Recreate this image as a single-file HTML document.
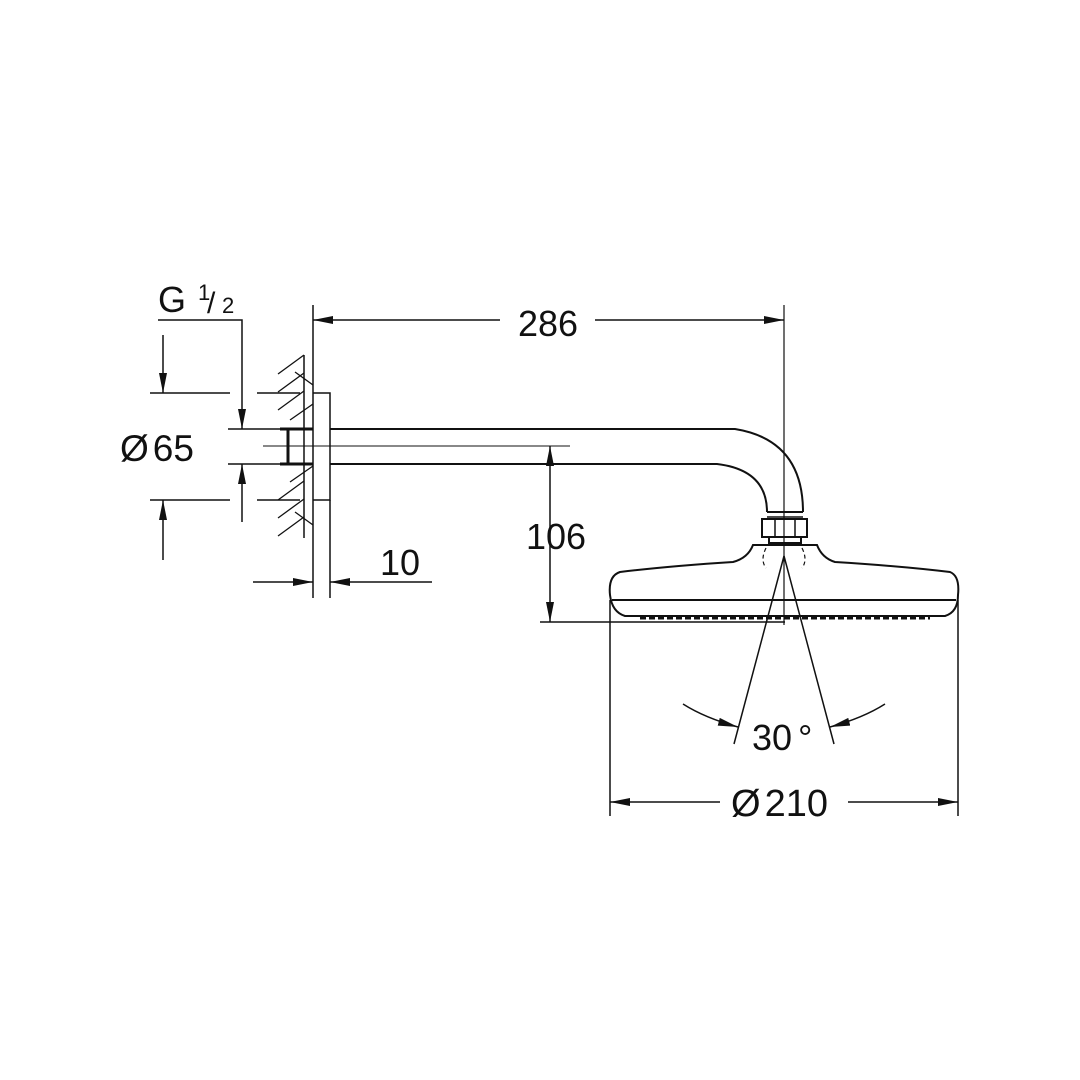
<!DOCTYPE html>
<html><head><style>
html,body{margin:0;padding:0;background:#fff;}
svg{display:block;}
text{font-family:"Liberation Sans",sans-serif;fill:#111;}
</style></head><body>
<svg width="1080" height="1080" viewBox="0 0 1080 1080" xmlns="http://www.w3.org/2000/svg">
<defs>
<marker id="a" viewBox="0 0 20 8" refX="20" refY="4" markerWidth="20" markerHeight="8" markerUnits="userSpaceOnUse" orient="auto-start-reverse">
<path d="M0,0 L20,4 L0,8 Z" fill="#111"/>
</marker>
</defs>
<g stroke="#111" fill="none" stroke-width="1.5">
<!-- wall -->
<line x1="313" y1="305" x2="313" y2="598"/>
<line x1="304" y1="355" x2="304" y2="538"/>
<g stroke-width="1.3">
<line x1="278" y1="374" x2="304" y2="355"/>
<line x1="278" y1="392" x2="304" y2="373"/>
<line x1="278" y1="410" x2="304" y2="391"/>
<line x1="290" y1="420" x2="313" y2="404"/>
<line x1="290" y1="482" x2="313" y2="466"/>
<line x1="278" y1="500" x2="304" y2="481"/>
<line x1="278" y1="518" x2="304" y2="499"/>
<line x1="278" y1="536" x2="304" y2="517"/>
<line x1="295" y1="372" x2="313" y2="385"/>
<line x1="295" y1="512" x2="313" y2="525"/>
</g>
<!-- flange -->
<path d="M313,393 H330 V500 H313"/>
<!-- thread -->
<path d="M280,429 H313 M280,464 H313 M288,429 V464" stroke-width="3"/>
<!-- arm -->
<path d="M330,429 H735 Q803,440 803,512" stroke-width="2"/>
<path d="M330,464 H717 Q767,470 767,512" stroke-width="2"/>
<line x1="263" y1="446" x2="570" y2="446" stroke-width="1"/>
<!-- nut -->
<rect x="762" y="519" width="45" height="18" stroke-width="2"/>
<line x1="767" y1="512" x2="803" y2="512" stroke-width="2"/>
<line x1="767" y1="517" x2="803" y2="517"/>
<line x1="775" y1="519" x2="775" y2="537"/><line x1="795" y1="519" x2="795" y2="537"/>
<path d="M769,537 V543 H801 V537" stroke-width="2"/>
<!-- head -->
<path d="M753,545 H817 Q822,558 835,562 Q900,566 950,572 Q960,576 958,595 Q958,612 945,616 H625 Q612,612 610,595 Q608,576 620,572 Q670,566 733,562 Q748,558 753,545 Z" stroke-width="2"/>
<line x1="612" y1="600" x2="956" y2="600" stroke-width="2"/>
<path d="M640,618 H930" stroke-width="3" stroke-dasharray="6 3"/>
<path d="M766,548 Q760,560 766,568 M802,548 Q808,560 802,568" stroke-dasharray="4 3" stroke-width="1.2"/>
<!-- centerline -->
<line x1="784" y1="305" x2="784" y2="625" stroke-width="1.2"/>
<!-- 286 -->
<line x1="313" y1="320" x2="500" y2="320" marker-start="url(#a)"/>
<line x1="595" y1="320" x2="784" y2="320" marker-end="url(#a)"/>
<!-- 106 -->
<line x1="550" y1="446" x2="550" y2="622" marker-start="url(#a)" marker-end="url(#a)"/>
<line x1="540" y1="622" x2="785" y2="622"/>
<!-- 10 -->
<line x1="330" y1="500" x2="330" y2="598"/>
<line x1="253" y1="582" x2="313" y2="582" marker-end="url(#a)"/>
<line x1="432" y1="582" x2="330" y2="582" marker-end="url(#a)"/>
<!-- 65 -->
<line x1="150" y1="393" x2="230" y2="393"/><line x1="257" y1="393" x2="300" y2="393"/>
<line x1="150" y1="500" x2="230" y2="500"/><line x1="257" y1="500" x2="300" y2="500"/>
<line x1="163" y1="335" x2="163" y2="393" marker-end="url(#a)"/>
<line x1="163" y1="560" x2="163" y2="500" marker-end="url(#a)"/>
<!-- G1/2 -->
<path d="M158,320 H242 V429" marker-end="url(#a)"/>
<line x1="242" y1="522" x2="242" y2="464" marker-end="url(#a)"/>
<line x1="228" y1="429" x2="290" y2="429"/><line x1="228" y1="464" x2="290" y2="464"/>
<!-- 30 -->
<line x1="784" y1="556" x2="734" y2="744"/>
<line x1="784" y1="556" x2="834" y2="744"/>
<path d="M683,704 Q705,718 738,727" marker-end="url(#a)"/>
<path d="M885,704 Q863,718 830,727" marker-end="url(#a)"/>
<!-- 210 -->
<line x1="610" y1="600" x2="610" y2="816"/>
<line x1="958" y1="600" x2="958" y2="816"/>
<line x1="610" y1="802" x2="720" y2="802" marker-start="url(#a)"/>
<line x1="848" y1="802" x2="958" y2="802" marker-end="url(#a)"/>
</g>
<text x="548" y="336" font-size="36" text-anchor="middle">286</text>
<text x="556" y="549" font-size="36" text-anchor="middle">106</text>
<text x="400" y="575" font-size="36" text-anchor="middle">10</text>
<text x="120" y="461" font-size="37">Ø<tspan dx="4">65</tspan></text>
<text x="158" y="312" font-size="36">G</text>
<text x="198" y="300" font-size="22">1</text>
<text x="207" y="313" font-size="30">/</text>
<text x="222" y="313" font-size="22">2</text>
<text x="752" y="750" font-size="36">30<tspan dx="6">°</tspan></text>
<text x="731" y="816" font-size="38">Ø<tspan dx="4">210</tspan></text>
</svg>
</body></html>
